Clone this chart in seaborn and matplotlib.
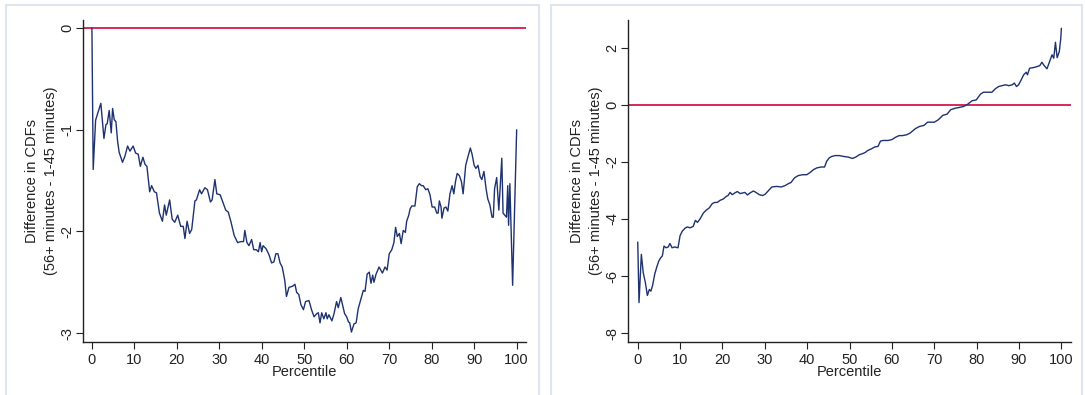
import matplotlib
matplotlib.use("Agg")
import matplotlib.pyplot as plt
from matplotlib.patches import Rectangle
import seaborn as sns
import pandas as pd

# ---------------- data ----------------
left_pct = [0, 0.3, 0.87, 2.1, 2.83, 3.3, 3.6, 4.07, 4.55, 4.87, 5.25, 5.65, 6.04, 6.4, 7.2, 7.77,
            8.4, 8.95, 9.7, 10.3, 10.9, 11.4, 12.0, 12.5, 12.95, 13.6, 14.05, 14.7, 15.2, 15.9, 16.6,
            17.1, 17.5, 18.3, 18.9, 19.5, 20.2, 20.9, 21.5, 21.9, 22.4, 23.0, 23.5, 24.25, 24.6, 25.35,
            25.8, 26.6, 27.2, 27.9, 28.3, 28.96, 29.4, 30.2, 30.9, 31.5, 32.1, 32.7, 33.5, 34.3, 35.1,
            35.7, 36.0, 36.5, 36.97, 37.6, 38.1, 38.7, 39.2, 39.6, 39.96, 40.3, 41.0, 41.7, 42.3, 42.85,
            43.3, 43.8, 44.3, 44.8, 45.4, 45.8, 46.4, 47.2, 47.8, 48.2, 48.7, 49.2, 49.8, 50.3, 51.1,
            51.7, 52.3, 52.9, 53.3, 53.7, 54.1, 54.6, 55.1, 55.4, 55.8, 56.5, 57.0, 57.6, 58.0, 58.6,
            59.0, 59.5, 59.97, 60.4, 60.7, 61.1, 61.7, 62.2, 62.7, 63.3, 63.9, 64.3, 64.8, 65.3, 65.7,
            66.1, 66.4, 66.9, 67.6, 68.4, 69.0, 69.5, 70.0, 70.6, 71.1, 71.5, 71.9, 72.4, 72.8, 73.3,
            73.8, 74.1, 74.6, 74.9, 75.3, 76.05, 76.6, 77.1, 77.6, 78.0, 78.6, 79.1, 79.6, 80.1, 80.7,
            81.2, 81.5, 81.8, 82.2, 82.4, 82.9, 83.35, 83.8, 84.3, 84.8, 85.2, 85.6, 86.0, 86.5, 87.0,
            87.4, 88.0, 88.5, 89.1, 89.5, 90.0, 90.4, 90.9, 91.4, 91.8, 92.3, 92.8, 93.2, 93.7, 94.2,
            94.5, 94.8, 95.3, 95.8, 96.1, 96.5, 96.8, 97.2, 97.6, 97.9, 98.1, 98.4, 99.05, 100]
left_diff = [0, -1.39, -0.905, -0.74, -1.085, -0.95, -0.94, -0.81, -1.03, -0.79, -0.90, -0.92, -1.11,
             -1.22, -1.32, -1.26, -1.16, -1.21, -1.16, -1.23, -1.24, -1.36, -1.27, -1.34, -1.36, -1.61,
             -1.55, -1.61, -1.62, -1.82, -1.90, -1.74, -1.84, -1.69, -1.88, -1.91, -1.84, -1.95, -1.95,
             -2.07, -1.90, -2.02, -1.98, -1.70, -1.69, -1.59, -1.63, -1.57, -1.59, -1.71, -1.69, -1.49,
             -1.63, -1.64, -1.72, -1.79, -1.81, -1.90, -2.04, -2.11, -2.10, -2.10, -1.99, -2.11, -2.14,
             -2.08, -2.18, -2.18, -2.20, -2.11, -2.20, -2.14, -2.17, -2.23, -2.31, -2.30, -2.22, -2.22,
             -2.31, -2.35, -2.48, -2.64, -2.55, -2.54, -2.52, -2.60, -2.62, -2.72, -2.77, -2.69, -2.68,
             -2.77, -2.84, -2.81, -2.80, -2.90, -2.80, -2.86, -2.80, -2.86, -2.82, -2.88, -2.81, -2.69,
             -2.75, -2.65, -2.72, -2.81, -2.84, -2.89, -2.90, -2.99, -2.91, -2.90, -2.76, -2.67, -2.58,
             -2.59, -2.42, -2.40, -2.51, -2.43, -2.50, -2.42, -2.35, -2.41, -2.35, -2.38, -2.22, -2.18,
             -2.11, -1.96, -2.05, -2.02, -2.12, -1.99, -2.01, -1.90, -1.84, -1.78, -1.75, -1.75, -1.56,
             -1.53, -1.55, -1.55, -1.59, -1.58, -1.64, -1.76, -1.76, -1.82, -1.82, -1.70, -1.76, -1.87,
             -1.77, -1.76, -1.80, -1.63, -1.55, -1.63, -1.51, -1.43, -1.45, -1.51, -1.63, -1.35, -1.27,
             -1.18, -1.24, -1.35, -1.38, -1.35, -1.46, -1.49, -1.41, -1.58, -1.68, -1.74, -1.86, -1.86,
             -1.58, -1.47, -1.79, -1.58, -1.28, -1.82, -1.84, -1.86, -1.55, -1.94, -1.53, -2.53, -1.0]

right_pct = [0, 0.3, 0.85, 1.3, 1.8, 2.27, 2.74, 3.1, 3.5, 4.0, 4.5, 4.95, 5.4, 5.8, 6.2, 6.7, 7.2, 7.6,
             8.1, 8.7, 9.5, 10.0, 10.5, 11.2, 11.7, 12.35, 13.1, 13.6, 14.1, 14.7, 15.5, 16.1, 16.9,
             17.6, 18.2, 18.8, 19.4, 20.2, 20.9, 21.3, 21.8, 22.3, 22.9, 23.5, 24.2, 24.8, 25.3, 25.9,
             26.5, 27.3, 27.9, 28.7, 29.5, 30.1, 30.9, 31.65, 32.8, 33.85, 34.8, 35.6, 36.2, 37.0, 37.9,
             38.9, 39.9, 40.7, 41.5, 42.3, 43.3, 44.1, 44.6, 45.2, 45.8, 46.6, 47.6, 48.6, 49.6, 50.7,
             51.5, 52.3, 53.1, 53.7, 54.3, 55.1, 55.9, 56.7, 57.3, 58.0, 59.1, 60.0, 60.95, 61.7, 62.5,
             63.5, 64.3, 65.5, 66.5, 67.6, 68.4, 69.2, 70.0, 71.0, 72.0, 73.0, 73.9, 74.96, 76.0, 76.9,
             77.9, 78.9, 79.9, 80.9, 81.6, 82.6, 83.6, 84.4, 85.2, 86.0, 86.8, 87.6, 88.4, 88.9, 89.4,
             89.9, 90.5, 91.1, 91.7, 92.0, 92.5, 93.3, 94.1, 94.9, 95.4, 95.96, 96.6, 97.2, 97.8, 98.2,
             98.6, 99.0, 99.5, 99.85, 100]
right_diff = [-4.81, -6.93, -5.24, -5.89, -6.23, -6.68, -6.47, -6.53, -6.33, -5.94, -5.68, -5.48, -5.36,
              -5.30, -4.95, -5.01, -4.98, -4.86, -5.01, -4.98, -5.01, -4.58, -4.43, -4.32, -4.28, -4.31,
              -4.26, -4.05, -4.12, -4.00, -3.79, -3.70, -3.61, -3.46, -3.42, -3.42, -3.35, -3.30, -3.21,
              -3.18, -3.07, -3.15, -3.09, -3.04, -3.11, -3.09, -3.07, -3.16, -3.09, -3.02, -3.07, -3.15,
              -3.18, -3.13, -3.00, -2.88, -2.86, -2.88, -2.83, -2.76, -2.72, -2.56, -2.48, -2.45, -2.45,
              -2.37, -2.27, -2.21, -2.18, -2.18, -1.98, -1.86, -1.81, -1.78, -1.78, -1.81, -1.83, -1.88,
              -1.83, -1.75, -1.71, -1.67, -1.60, -1.55, -1.48, -1.46, -1.27, -1.25, -1.25, -1.22, -1.13,
              -1.08, -1.08, -1.05, -0.99, -0.84, -0.76, -0.72, -0.61, -0.61, -0.61, -0.52, -0.37, -0.33,
              -0.17, -0.12, -0.09, -0.06, 0.02, 0.14, 0.17, 0.37, 0.44, 0.44, 0.44, 0.56, 0.64, 0.67,
              0.70, 0.67, 0.70, 0.76, 0.64, 0.70, 0.87, 1.05, 1.14, 1.05, 1.28, 1.30, 1.33, 1.37, 1.49,
              1.37, 1.26, 1.51, 1.75, 1.63, 2.19, 1.65, 1.86, 2.31, 2.68]

x_ticks = [0, 10, 20, 30, 40, 50, 60, 70, 80, 90, 100]
left_yticks = [0, -1, -2, -3]
right_yticks = [2, 0, -2, -4, -6, -8]
x_label = "Percentile"
y_label = "Difference in CDFs\n(56+ minutes - 1-45 minutes)"

# ---------------- style ----------------
sns.set_theme(style="ticks")
plt.rcParams["font.family"] = ["Liberation Sans", "DejaVu Sans"]

LINE = "#1E3270"
RED = "#D4184A"
BOX = "#DCE5F0"
FS = 10.5

W, H = 1085, 395
fig = plt.figure(figsize=(W / 100, H / 100), dpi=100)
fig.patch.set_facecolor("white")

# outer panel boxes (Stata-style graph region outlines)
for x0, x1 in [(6, 539), (551, 1082)]:
    fig.add_artist(Rectangle((x0 / W, -0.05), (x1 - x0) / W, (H - 5) / H + 0.05,
                             transform=fig.transFigure, fill=False,
                             edgecolor=BOX, linewidth=1.5))

def make_axes(left_px, right_px):
    return fig.add_axes([left_px / W, (H - 341.7) / H, (right_px - left_px) / W, (341.7 - 20) / H])

ax1 = make_axes(83, 526)
ax2 = make_axes(628, 1070.7)

df_left = pd.DataFrame({"pct": left_pct, "diff": left_diff})
df_right = pd.DataFrame({"pct": right_pct, "diff": right_diff})

panels = [
    (ax1, df_left, (-2.1, 102.2), (-3.085, 0.08), left_yticks),
    (ax2, df_right, (-2.3, 102.2), (-8.3, 2.97), right_yticks),
]

for ax, df, xl, yl, yt in panels:
    ax.axhline(0, color=RED, lw=1.3, zorder=1)
    sns.lineplot(data=df, x="pct", y="diff", ax=ax, color=LINE, lw=1.0,
                 estimator=None, sort=False, zorder=2)
    ax.set_xlim(*xl)
    ax.set_ylim(*yl)
    ax.set_xticks(x_ticks)
    ax.set_yticks(yt)
    ax.set_yticklabels([str(v) for v in yt], rotation=90, va="center")
    ax.tick_params(axis="both", direction="out", length=5, width=0.8, colors="#222222",
                   labelsize=FS)
    ax.tick_params(axis="y", pad=1)
    ax.tick_params(axis="x", pad=3)
    for s in ["top", "right"]:
        ax.spines[s].set_visible(False)
    for s in ["left", "bottom"]:
        ax.spines[s].set_color("#222222")
        ax.spines[s].set_linewidth(1.0)
    ax.set_xlabel(x_label, fontsize=FS, labelpad=-1, color="#222222")
    ax.set_ylabel(y_label, fontsize=FS, labelpad=2, color="#222222", linespacing=1.45)
    ax.set_facecolor("white")

fig.savefig("out.png", dpi=100)
